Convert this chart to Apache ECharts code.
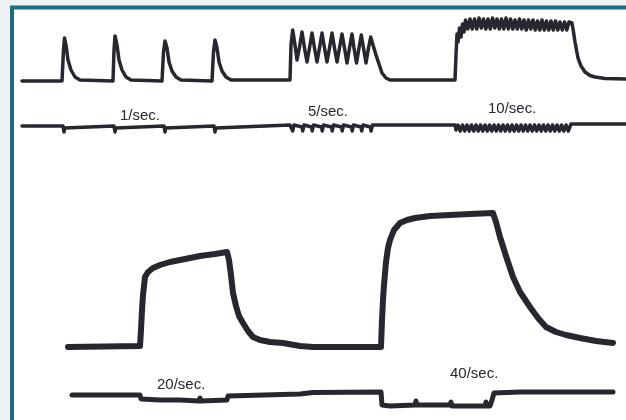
<!DOCTYPE html>
<html>
<head>
<meta charset="utf-8">
<script src="https://cdn.jsdelivr.net/npm/echarts@6/dist/echarts.min.js"></script>
<style>
  html, body { margin: 0; padding: 0; background: #eef1f4; }
  #chart { width: 626px; height: 420px; }
</style>
</head>
<body>
<div id="chart"></div>
<script>
// 刺激频率标签
const rateLabels = ['1/sec.', '5/sec.', '10/sec.', '20/sec.', '40/sec.']

// 上方张力曲线：单收缩 1/sec、5/sec、10/sec（[时间, 张力]，读自原图）
const twitchTrace = [
  [22, 81], [62, 81], [63.5, 50], [64.5, 38], [66, 45], [68, 60], [71, 70], [75, 77], [80, 80],
  [113, 81], [114, 50], [115, 36], [117, 45], [119, 60], [122, 70], [126, 77], [131, 80],
  [162, 81], [163.5, 52], [165, 41], [167, 48], [169, 62], [172, 71], [176, 77], [181, 80],
  [212, 81], [213.5, 52], [215, 40], [217, 48], [219, 62], [222, 71], [226, 77], [231, 80],
  [290, 80], [291, 45], [292.7, 30], [295, 45], [297, 60], [299.5, 47], [302, 32],
  [304.5, 48], [307, 62], [309.5, 48], [312, 33], [314.5, 48], [317, 62], [319.5, 48],
  [322, 33], [324.5, 48], [327, 62], [329.5, 48], [332, 33], [334.5, 48], [337, 62],
  [339.5, 48], [342, 34], [344.5, 48], [347, 63], [349.5, 48], [352, 34], [354, 48],
  [356.5, 63], [359, 48], [361.3, 35], [363.5, 48], [366, 63], [368.5, 48], [370.7, 37],
  [373, 45], [376, 55], [379, 64], [382, 73], [386, 78], [390, 80], [455, 80],
  [456, 55], [457, 34], [458, 42], [459.5, 28], [461, 37], [462.5, 24], [464, 32],
  [465.5, 20], [467.8, 29], [470, 19], [472.3, 29], [474.5, 19], [476.8, 29], [479, 18],
  [481.3, 28], [483.5, 19], [485.8, 29], [488, 19], [490.3, 29], [492.5, 18], [494.8, 28],
  [497, 19], [499.3, 29], [501.5, 19], [503.8, 29], [506, 18], [508.3, 29], [510.5, 19],
  [512.8, 29], [515, 20], [517.3, 29], [519.5, 19], [521.8, 29], [524, 20], [526.3, 30],
  [528.5, 20], [530.8, 29], [533, 20], [535.3, 30], [537.5, 21], [539.8, 30], [542, 20],
  [544.3, 30], [546.5, 21], [548.8, 30], [551, 21], [553.3, 30], [555.5, 21], [557.8, 30],
  [560, 22], [562.3, 30], [564.5, 22], [566.8, 30], [569, 22], [572, 23],
  [573.5, 32], [575, 42], [578, 58], [581, 66], [585, 72], [590, 75.5], [595, 77],
  [605, 78.5], [626, 79]
]

// 上方刺激标记线
const stimTraceTop = [
  [22, 126], [63, 126], [64, 132], [64.6, 128], [66, 127], [114, 126], [115, 132],
  [115.6, 128], [117, 127], [164, 126], [165, 132], [165.6, 128], [167, 127],
  [214, 126], [215, 132], [215.6, 128], [217, 126], [290, 125],
  [292, 127], [292.7, 131], [294, 125], [302, 127], [302.7, 131], [304, 125],
  [311.5, 127], [312.2, 131], [313.5, 125], [321.5, 127], [322.2, 131], [323.5, 125],
  [331.5, 127], [332.2, 131], [333.5, 125], [341.5, 127], [342.2, 131], [343.5, 125],
  [351.5, 127], [352.2, 131], [353.5, 125], [361, 127], [361.7, 131], [363, 125],
  [370.3, 127], [371, 131], [372.5, 125], [455, 125],
  [456, 130], [458, 125], [460.3, 131], [462.5, 125], [464.8, 131], [467, 125],
  [469.3, 131], [471.5, 125], [473.8, 131], [476, 125], [478.3, 131], [480.5, 125],
  [482.8, 131], [485, 125], [487.3, 131], [489.5, 125], [491.8, 131], [494, 125],
  [496.3, 131], [498.5, 125], [500.8, 131], [503, 125], [505.3, 131], [507.5, 125],
  [509.8, 131], [512, 125], [514.3, 131], [516.5, 125], [518.8, 131], [521, 125],
  [523.3, 131], [525.5, 125], [527.8, 131], [530, 125], [532.3, 131], [534.5, 125],
  [536.8, 131], [539, 125], [541.3, 131], [543.5, 125], [545.8, 131], [548, 125],
  [550.3, 131], [552.5, 125], [554.8, 131], [557, 125], [559.3, 131], [561.5, 125],
  [563.8, 131], [566, 125], [568.3, 131], [571, 124], [575, 124], [626, 124]
]

// 下方张力曲线：强直收缩 20/sec、40/sec
const tetanusTrace = [
  [68, 347], [140, 346], [141, 330], [142, 310], [143, 295], [145, 277], [148, 272],
  [153, 268], [160, 265], [170, 262], [185, 259], [200, 256], [215, 254], [227, 252],
  [229, 260], [231, 275], [233, 293], [236, 306], [239, 316], [243, 323], [248, 331],
  [253, 337], [260, 340], [270, 342], [283, 343], [300, 346], [313, 347], [340, 347],
  [381, 347], [382, 320], [383, 300], [384, 285], [386, 262], [388, 248], [390, 240],
  [394, 230], [400, 223], [407, 220], [415, 218], [430, 216], [450, 215], [470, 214],
  [493, 213], [496, 222], [500, 237], [506, 256], [513, 277], [520, 292], [530, 307],
  [538, 318], [546, 327], [556, 332], [566, 335], [580, 338], [596, 341], [613, 343]
]

// 下方刺激标记线
const stimTraceBottom = [
  [72, 395], [140, 395], [141, 399], [160, 400], [180, 400], [199, 401], [200, 398],
  [201, 401], [227, 400], [228, 396], [230, 394.5], [300, 394], [313, 392.5], [381, 392],
  [382, 405], [390, 406], [415, 405], [416, 401], [417, 405], [450, 405], [451, 402],
  [452, 406], [485, 406], [486, 402], [487, 406], [490, 406], [492, 400], [494, 393],
  [520, 392], [613, 392]
]

const inkColor = '#2a2630'
const chart = echarts.init(document.getElementById('chart'))

function traceSeries (data, width) {
  return {
    type: 'line',
    data: data,
    showSymbol: false,
    silent: true,
    animation: false,
    lineStyle: { color: inkColor, width: width, join: 'round', cap: 'round' }
  }
}

// 标签位置（像素）
const labelPos = [[120, 108], [308, 104], [488, 101], [157, 377], [450, 366]]

const option = {
  backgroundColor: '#eef1f4',
  grid: { left: 0, right: 0, top: 0, bottom: 0 },
  xAxis: { type: 'value', min: 0, max: 626, show: false },
  yAxis: { type: 'value', min: 0, max: 420, inverse: true, show: false },
  graphic: [
    {
      type: 'rect',
      z: -10,
      shape: { x: 12, y: 7.5, width: 640, height: 430 },
      style: { fill: '#ffffff', stroke: '#1d6a84', lineWidth: 4 }
    }
  ].concat(rateLabels.map((txt, i) => ({
    type: 'text',
    z: 10,
    left: labelPos[i][0],
    top: labelPos[i][1],
    style: {
      text: txt,
      fill: inkColor,
      font: '15px "Liberation Sans", Arial, sans-serif'
    }
  }))),
  series: [
    traceSeries(twitchTrace, 3.5),
    traceSeries(stimTraceTop, 3.5),
    traceSeries(tetanusTrace, 6),
    traceSeries(stimTraceBottom, 5)
  ]
}

chart.setOption(option)
</script>
</body>
</html>
